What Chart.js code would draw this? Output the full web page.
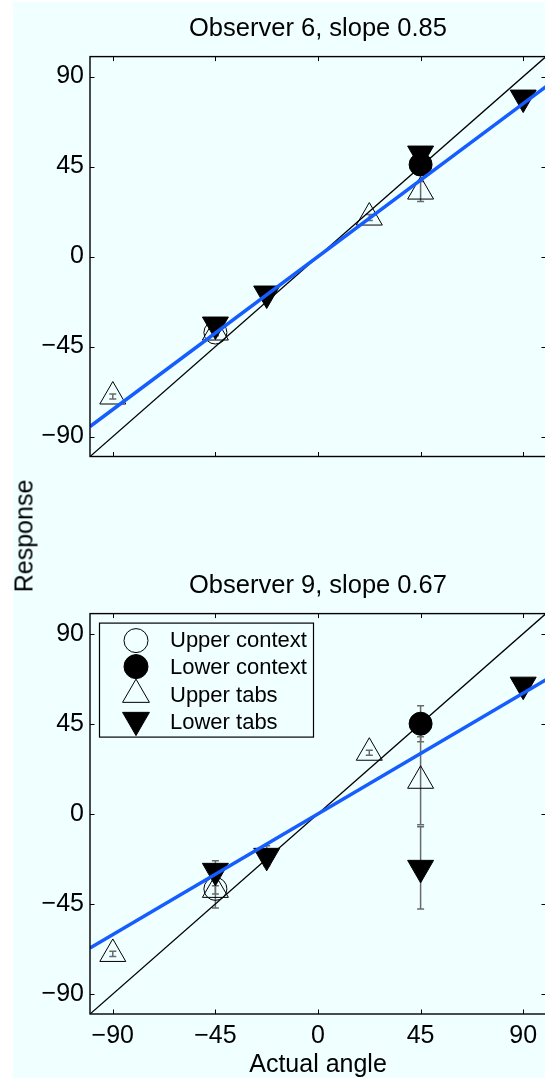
<!DOCTYPE html>
<html>
<head>
<meta charset="utf-8">
<script src="https://cdn.jsdelivr.net/npm/chart.js@4.4.1/dist/chart.umd.min.js"></script>
<style>
  html, body { margin: 0; padding: 0; background: #ffffff; width: 545px; height: 1080px; overflow: hidden; }
  #figbg { position: absolute; left: 13px; top: 2px; width: 532px; height: 1076px; background: #F0FFFF; }
  .panel { position: absolute; left: 0; }
  #ylabel {
    position: absolute; left: 24px; top: 536px;
    transform: translate(-50%, -50%) rotate(-90deg);
    font-family: "Liberation Sans", Arial, Helvetica, sans-serif; font-size: 25px;
    white-space: nowrap; color: #000;
  }
</style>
</head>
<body>
<div id="figbg"></div>
<canvas id="obs6" class="panel" width="600" height="480" style="top:0px;width:600px;height:480px;"></canvas>
<canvas id="obs9" class="panel" width="600" height="540" style="top:540px;width:600px;height:540px;"></canvas>
<div id="ylabel">Response</div>
<script>
// Shared axis ticks and labels
const X_TICKS = [-90, -45, 0, 45, 90];
const Y_TICKS = [-90, -45, 0, 45, 90];
const SERIES_NAMES = ['Upper context', 'Lower context', 'Upper tabs', 'Lower tabs'];
const X_TITLE = 'Actual angle';

// Observer 6: mean response (deg) and error half-width per condition
const obs6Slope = 0.85;
const obs6UpperContextX = [-45];
const obs6UpperContextY = [-38];
const obs6UpperContextErr = [1.5];
const obs6LowerContextX = [45];
const obs6LowerContextY = [46];
const obs6LowerContextErr = [2];
const obs6UpperTabsX = [-90, -45, 22.5, 45];
const obs6UpperTabsY = [-70, -38, 19.5, 32.5];
const obs6UpperTabsErr = [1.3, 1.5, 1.5, 5];
const obs6LowerTabsX = [-45, -22.5, 45, 90];
const obs6LowerTabsY = [-34, -18.5, 51.5, 79.5];
const obs6LowerTabsErr = [1.5, 1.5, 1.5, 1.5];

// Observer 9
const obs9Slope = 0.67;
const obs9UpperContextX = [-45];
const obs9UpperContextY = [-37.5];
const obs9UpperContextErr = [9.5];
const obs9LowerContextX = [45];
const obs9LowerContextY = [45];
const obs9LowerContextErr = [9];
const obs9UpperTabsX = [-90, -45, 22.5, 45];
const obs9UpperTabsY = [-70, -38, 30.5, 16.5];
const obs9UpperTabsErr = [1.3, 2, 1.3, 22];
const obs9LowerTabsX = [-45, -22.5, 45, 90];
const obs9LowerTabsY = [-28.5, -21, -27, 64.5];
const obs9LowerTabsErr = [5, 5, 20.5, 1.5];

const FONT = '"Liberation Sans", Arial, Helvetica, sans-serif';
const BG = '#F0FFFF';
const FIT_BLUE = '#165DFF';

// marker look per condition: style, rotation, radius, filled
const MARKERS = [
  { style: 'circle',   rotation: 0,   radius: 11.5, filled: false },
  { style: 'circle',   rotation: 0,   radius: 11.5, filled: true  },
  { style: 'triangle', rotation: 0,   radius: 15,   filled: false },
  { style: 'triangle', rotation: 180, radius: 15,   filled: true  }
];

function pts(xs, ys) { return xs.map((x, i) => ({ x: x, y: ys[i] })); }

function markerDataset(idx, xs, ys, errs) {
  const m = MARKERS[idx];
  return {
    label: SERIES_NAMES[idx],
    data: pts(xs, ys),
    errors: errs,
    marker: m,
    showLine: false,
    pointStyle: m.style,
    rotation: m.rotation,
    pointRotation: m.rotation,
    pointRadius: m.radius,
    pointHoverRadius: m.radius,
    pointBorderWidth: 1,
    pointBorderColor: '#000',
    pointBackgroundColor: m.filled ? '#000' : 'rgba(0,0,0,0)',
    order: 2 + (3 - idx)
  };
}

function lineDataset(label, slope, color, width, order) {
  return {
    label: label,
    data: [{ x: -100, y: -100 * slope }, { x: 100, y: 100 * slope }],
    showLine: true,
    borderColor: color,
    borderWidth: width,
    pointRadius: 0,
    fill: false,
    order: order
  };
}

// vertical error bars with small caps, drawn under the markers
const errorBarPlugin = {
  id: 'errorBars',
  beforeDatasetsDraw(chart) {
    const { ctx, scales: { x, y } } = chart;
    ctx.save();
    ctx.strokeStyle = '#6a6a6a';
    ctx.lineWidth = 1.5;
    chart.data.datasets.forEach(ds => {
      if (!ds.errors) return;
      ds.data.forEach((p, i) => {
        const e = ds.errors[i];
        const px = x.getPixelForValue(p.x);
        const t = y.getPixelForValue(p.y + e);
        const b = y.getPixelForValue(p.y - e);
        ctx.beginPath();
        ctx.moveTo(px, t); ctx.lineTo(px, b);
        ctx.moveTo(px - 3.5, t); ctx.lineTo(px + 3.5, t);
        ctx.moveTo(px - 3.5, b); ctx.lineTo(px + 3.5, b);
        ctx.stroke();
      });
    });
    ctx.restore();
  }
};

// axes box with inward ticks on all four sides
const framePlugin = {
  id: 'frame',
  afterDatasetsDraw(chart) {
    const { ctx, chartArea: { left, right, top, bottom }, scales: { x, y } } = chart;
    ctx.save();
    ctx.strokeStyle = '#000';
    ctx.lineWidth = 1.4;
    ctx.strokeRect(left, top, right - left, bottom - top);
    ctx.lineWidth = 1;
    ctx.beginPath();
    X_TICKS.forEach(v => {
      const px = Math.round(x.getPixelForValue(v)) + 0.5;
      ctx.moveTo(px, bottom); ctx.lineTo(px, bottom - 4.5);
      ctx.moveTo(px, top); ctx.lineTo(px, top + 4.5);
    });
    Y_TICKS.forEach(v => {
      const py = Math.round(y.getPixelForValue(v)) + 0.5;
      ctx.moveTo(left, py); ctx.lineTo(left + 4.5, py);
      ctx.moveTo(right, py); ctx.lineTo(right - 4.5, py);
    });
    ctx.stroke();
    ctx.restore();
  }
};

// boxed legend inside the upper-left corner of the plot area
const innerLegendPlugin = {
  id: 'innerLegend',
  afterDraw(chart, args, opts) {
    if (!opts || !opts.show) return;
    const { ctx, chartArea } = chart;
    const bx = chartArea.left + 9.5, by = chartArea.top + 9.5, bw = 214, bh = 114;
    ctx.save();
    ctx.fillStyle = BG;
    ctx.fillRect(bx, by, bw, bh);
    ctx.strokeStyle = '#000';
    ctx.lineWidth = 1.2;
    ctx.strokeRect(bx, by, bw, bh);
    const items = chart.data.datasets.filter(ds => ds.marker);
    const markerY = [27, 53, 81, 106.5];
    const textY = [27.5, 54.5, 82, 109];
    items.forEach((ds, i) => {
      const m = ds.marker;
      const mx = chartArea.left + 46;
      const my = chartArea.top + markerY[i];
      ctx.fillStyle = m.filled ? '#000' : 'rgba(0,0,0,0)';
      ctx.strokeStyle = '#000';
      ctx.lineWidth = 1;
      Chart.helpers.drawPoint(ctx, {
        pointStyle: m.style, rotation: m.rotation,
        radius: m.style === 'triangle' ? 15.5 : 12, borderWidth: 1
      }, mx, my);
      ctx.fillStyle = '#000';
      ctx.font = '22px ' + FONT;
      ctx.textAlign = 'left';
      ctx.textBaseline = 'middle';
      ctx.fillText(ds.label, chartArea.left + 80, chartArea.top + textY[i]);
    });
    ctx.restore();
  }
};

function tickLabel(v) { return v < 0 ? '\u2212' + Math.abs(v) : String(v); }

function makeChart(canvasId, slope, title, sets, bottomPanel) {
  const datasets = [
    markerDataset(0, sets[0][0], sets[0][1], sets[0][2]),
    markerDataset(1, sets[1][0], sets[1][1], sets[1][2]),
    markerDataset(2, sets[2][0], sets[2][1], sets[2][2]),
    markerDataset(3, sets[3][0], sets[3][1], sets[3][2]),
    lineDataset('identity', 1, '#000', 1.3, 20),
    lineDataset('fit', slope, FIT_BLUE, 3.5, 0)
  ];
  return new Chart(document.getElementById(canvasId), {
    type: 'scatter',
    data: { datasets: datasets },
    plugins: [errorBarPlugin, framePlugin, innerLegendPlugin],
    options: {
      responsive: false,
      maintainAspectRatio: false,
      animation: false,
      events: [],
      layout: { padding: { left: 0, top: 0, right: 54, bottom: bottomPanel ? 0 : 23.5 } },
      plugins: {
        legend: { display: false },
        tooltip: { enabled: false },
        innerLegend: { show: bottomPanel },
        title: {
          display: true,
          fullSize: false,
          text: title,
          color: '#000',
          font: { family: FONT, size: 25.5, weight: 'normal' },
          padding: bottomPanel ? { top: 31, bottom: 12 } : { top: 14, bottom: 12 }
        }
      },
      scales: {
        x: {
          type: 'linear',
          display: bottomPanel,
          min: -100, max: 100,
          afterBuildTicks: s => { s.ticks = X_TICKS.map(v => ({ value: v })); },
          afterFit: s => { if (bottomPanel) s.height = 66; },
          grid: { display: false, drawTicks: false },
          border: { display: false },
          ticks: {
            padding: 7, color: '#000', maxRotation: 0, autoSkip: false,
            font: { family: FONT, size: 25 },
            callback: v => tickLabel(v)
          },
          title: {
            display: true, text: X_TITLE, color: '#000',
            font: { family: FONT, size: 25 }, padding: { top: 0, bottom: 0 }
          }
        },
        y: {
          type: 'linear',
          min: -100, max: 100,
          afterBuildTicks: s => { s.ticks = Y_TICKS.map(v => ({ value: v })); },
          afterFit: s => { s.width = 90; },
          grid: { display: false, drawTicks: false },
          border: { display: false },
          ticks: {
            padding: 6, color: '#000', autoSkip: false,
            font: { family: FONT, size: 25 },
            callback: v => tickLabel(v)
          }
        }
      }
    }
  });
}

makeChart('obs6', obs6Slope, 'Observer 6, slope ' + obs6Slope.toFixed(2), [
  [obs6UpperContextX, obs6UpperContextY, obs6UpperContextErr],
  [obs6LowerContextX, obs6LowerContextY, obs6LowerContextErr],
  [obs6UpperTabsX, obs6UpperTabsY, obs6UpperTabsErr],
  [obs6LowerTabsX, obs6LowerTabsY, obs6LowerTabsErr]
], false);

makeChart('obs9', obs9Slope, 'Observer 9, slope ' + obs9Slope.toFixed(2), [
  [obs9UpperContextX, obs9UpperContextY, obs9UpperContextErr],
  [obs9LowerContextX, obs9LowerContextY, obs9LowerContextErr],
  [obs9UpperTabsX, obs9UpperTabsY, obs9UpperTabsErr],
  [obs9LowerTabsX, obs9LowerTabsY, obs9LowerTabsErr]
], true);
</script>
</body>
</html>
